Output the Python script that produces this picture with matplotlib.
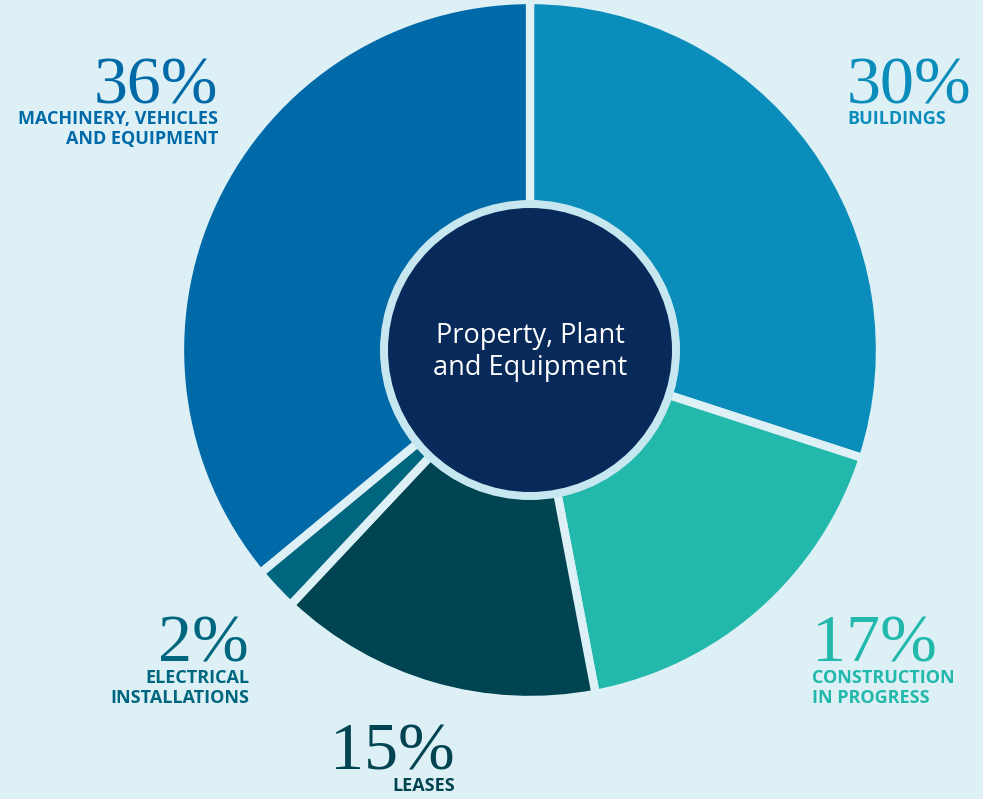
import matplotlib.pyplot as plt
from matplotlib.patches import Circle

# data
categories = ["BUILDINGS", "CONSTRUCTION\nIN PROGRESS", "LEASES",
              "ELECTRICAL\nINSTALLATIONS", "MACHINERY, VEHICLES\nAND EQUIPMENT"]
shares = [30, 17, 15, 2, 36]
colors = ["#0a8dba", "#22b8ab", "#014451", "#006680", "#0069a8"]

bg = "#dcf0f6"
W, H = 983, 799
fig = plt.figure(figsize=(W / 100, H / 100), dpi=100, facecolor=bg)

# pie centred at (530, 350) px, radius 350 px
cx, cy, r = 530, 350, 350
ax = fig.add_axes([(cx - r) / W, (H - cy - r) / H, 2 * r / W, 2 * r / H])
ax.set_facecolor(bg)
ax.pie(shares, colors=colors, startangle=90, counterclock=False, radius=1.0,
       wedgeprops=dict(edgecolor=bg, linewidth=6, joinstyle="miter"))
ax.set_xlim(-1, 1)
ax.set_ylim(-1, 1)
ax.set_aspect("equal")
ax.axis("off")

# centre disc with light ring
ax.add_patch(Circle((0, 0), 150 / r, facecolor="#c6e7ef", edgecolor="none", zorder=5))
ax.add_patch(Circle((0, 0), 142 / r, facecolor="#072a5a", edgecolor="none", zorder=6))
ax.text(0, -0.005, "Property, Plant\nand Equipment", ha="center", va="center",
        color="white", fontsize=19.5, family="Open Sans", linespacing=1.2, zorder=7)

# annotations: (x px, baseline px of %, alignment)
label_pos = [(847, 103, "left"), (812, 662, "left"), (455, 770, "right"),
             (249, 662, "right"), (218, 103, "right")]

def fx(x):
    return x / W

def fy(y):
    return 1 - y / H

for cat, val, col, (x, y, ha) in zip(categories, shares, colors, label_pos):
    fig.text(fx(x), fy(y), f"{val}%", ha=ha, va="baseline", color=col,
             fontsize=49, family="Liberation Serif")
    fig.text(fx(x), fy(y + 7), cat, ha=ha, va="top",
             color=col, fontsize=13, family="Open Sans", fontweight="bold",
             linespacing=1.12)

fig.savefig("out.png", dpi=100, facecolor=bg)
